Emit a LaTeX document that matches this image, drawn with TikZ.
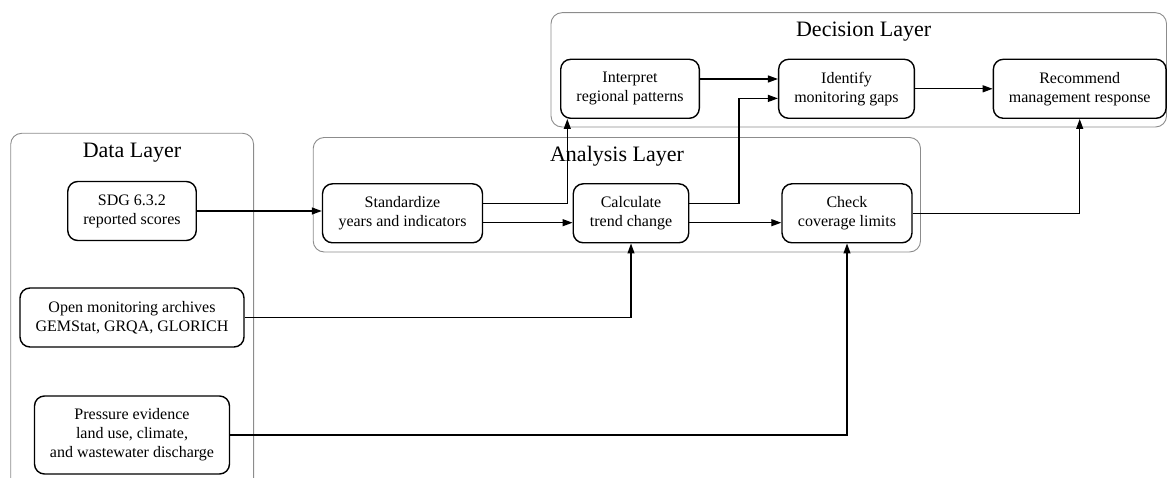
\documentclass[tikz,border=0pt]{standalone}
\usepackage{fontspec}
\setmainfont{Liberation Serif}
\usetikzlibrary{arrows.meta}
\tikzset{
	step box/.style={draw,line width=1.4pt,rounded corners=10pt,align=center,minimum height=59pt,inner sep=2pt,font=\fontsize{16}{19}\selectfont},
	layer/.style={draw=black!45,line width=0.9pt,rounded corners=11pt},
	layer title/.style={font=\fontsize{22}{26}\selectfont},
	flow/.style={line width=1.2pt,-{Triangle[length=10pt,width=7pt]}}
}
\begin{document}
\begin{tikzpicture}[x=1pt,y=-1pt]
	\clip(0,0)rectangle(1168,478);
	%layers
	\draw[layer](10.7,133.3)rectangle(253.6,492);
	\draw[layer](313.2,137.5)rectangle(920.5,252);
	\draw[layer](551,12.7)rectangle(1166.5,127);
	\node[layer title](dataT)at(132,152.5){Data Layer};
	\node[layer title](anaT)at(617,156.5){Analysis Layer};
	\node[layer title](decT)at(863.6,31.5){Decision Layer};
	%data layer
	\node[step box,minimum width=128.5pt](sdg)at(132,211){SDG 6.3.2\\reported scores};
	\node[step box,minimum width=224pt](open)at(132,317.5){Open monitoring archives\\GEMStat, GRQA, GLORICH};
	\node[step box,minimum width=195pt,minimum height=78pt](pressure)at(132,435){Pressure evidence\\land use, climate,\\and wastewater discharge};
	%analysis layer
	\node[step box,minimum width=160pt](std)at(402.5,213.3){Standardize\\years and indicators};
	\node[step box,minimum width=115.5pt](calc)at(631,213.3){Calculate\\trend change};
	\node[step box,minimum width=130pt](check)at(847,213.3){Check\\coverage limits};
	%decision layer
	\node[step box,minimum width=138.6pt](interp)at(630,88.8){Interpret\\regional patterns};
	\node[step box,minimum width=135.7pt](gaps)at(846.5,88.8){Identify\\monitoring gaps};
	\node[step box,minimum width=172.7pt](resp)at(1079.7,88.8){Recommend\\management response};
	%bends
	\coordinate(up1)at(567.3,203.3);
	\coordinate(lo1)at(567.3,222.7);
	\coordinate(up2)at(739,98.4);
	\coordinate(hi1)at(739,79);
	%connectors
	\draw[flow](sdg.east)--(sdg.east-|std.west);
	\draw[flow](up1-|std.east)-|(interp.south-|up1);
	\draw[flow](lo1-|std.east)--(lo1-|calc.west);
	\draw[flow](up1-|calc.east)-|(up2)--(up2-|gaps.west);
	\draw[flow](lo1-|calc.east)--(lo1-|check.west);
	\draw[flow](hi1-|interp.east)--(hi1-|gaps.west);
	\draw[flow](gaps)--(resp);
	\draw[flow](check.east)-|(resp.south);
	\draw[flow](open.east)-|(calc.south);
	\draw[flow](pressure.east)-|(check.south);
\end{tikzpicture}
\end{document}
